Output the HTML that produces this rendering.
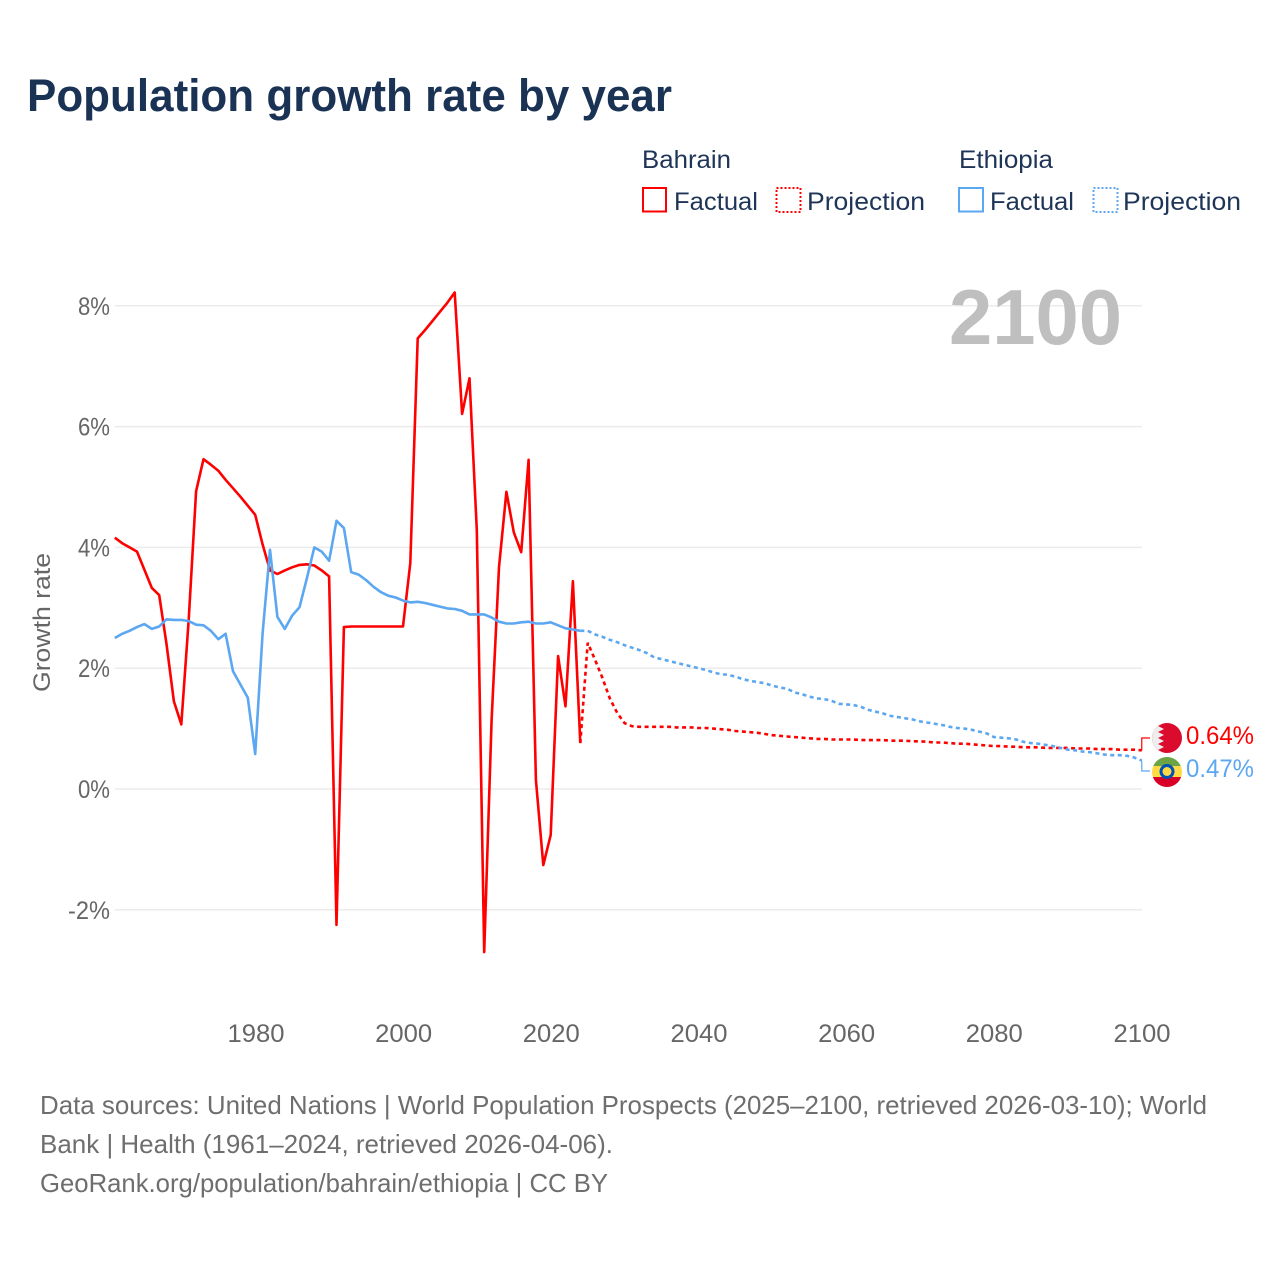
<!DOCTYPE html>
<html lang="en">
<head>
<meta charset="utf-8">
<title>Population growth rate by year</title>
<style>
html,body{margin:0;padding:0;background:#fff}
svg{display:block}
text{font-family:"Liberation Sans",sans-serif}
</style>
</head>
<body>
<svg id="chart" xmlns="http://www.w3.org/2000/svg" width="1280" height="1280" viewBox="0 0 1280 1280">
  <defs>
    <clipPath id="clip-bh"><circle cx="1167" cy="738" r="15"/></clipPath>
    <clipPath id="clip-et"><circle cx="1167" cy="772" r="15"/></clipPath>
  </defs>
  <rect width="1280" height="1280" fill="#ffffff"/>
  <text x="27" y="111" font-size="45" font-weight="700" fill="#1a3355" textLength="645" lengthAdjust="spacingAndGlyphs">Population growth rate by year</text>

  <g font-size="25" fill="#1f3557">
    <text x="642" y="168" textLength="89" lengthAdjust="spacingAndGlyphs">Bahrain</text>
    <text x="959" y="168" textLength="94" lengthAdjust="spacingAndGlyphs">Ethiopia</text>
    <g>
      <rect x="643" y="188" width="23" height="23.5" fill="none" stroke="#ff0000" stroke-width="2"/>
      <text x="674" y="210" textLength="84" lengthAdjust="spacingAndGlyphs">Factual</text>
    </g>
    <g>
      <rect x="776.5" y="188" width="24" height="24" fill="none" stroke="#ff0000" stroke-width="2" stroke-dasharray="2 2"/>
      <text x="807" y="210" textLength="118" lengthAdjust="spacingAndGlyphs">Projection</text>
    </g>
    <g>
      <rect x="959" y="188" width="24" height="23.5" fill="none" stroke="#5ca7f1" stroke-width="2"/>
      <text x="990" y="210" textLength="84" lengthAdjust="spacingAndGlyphs">Factual</text>
    </g>
    <g>
      <rect x="1093.5" y="188" width="24" height="24" fill="none" stroke="#5ca7f1" stroke-width="2" stroke-dasharray="2 2"/>
      <text x="1123" y="210" textLength="118" lengthAdjust="spacingAndGlyphs">Projection</text>
    </g>
  </g>

  <g id="grid"></g>
  <text x="949" y="344" font-size="78" font-weight="700" fill="#bfbfbf" textLength="173" lengthAdjust="spacingAndGlyphs">2100</text>
  <text transform="translate(50,692) rotate(-90)" font-size="24" fill="#666666" textLength="139" lengthAdjust="spacingAndGlyphs">Growth rate</text>
  <g id="yticks" font-size="25" fill="#666666"></g>
  <g id="xticks" font-size="25" fill="#666666"></g>
  <g id="series"></g>

  <g clip-path="url(#clip-bh)">
    <rect x="1152" y="723" width="30" height="30" fill="#da0b2c"/>
    <polygon points="1152,723 1164,723 1158,726 1164,729 1158,732 1164,735 1158,738 1164,741 1158,744 1164,747 1158,750 1164,753 1152,753" fill="#eeeeee"/>
  </g>
  <g clip-path="url(#clip-et)">
    <rect x="1152" y="757" width="30" height="9" fill="#6da544"/>
    <rect x="1152" y="766" width="30" height="11" fill="#ffda44"/>
    <rect x="1152" y="777" width="30" height="10" fill="#d80027"/>
    <circle cx="1167" cy="771.5" r="7.5" fill="#0052b4"/>
    <circle cx="1167" cy="771.5" r="4.5" fill="#ffda44"/>
  </g>
  <text x="1186" y="744" font-size="25" fill="#ff0000" textLength="68" lengthAdjust="spacingAndGlyphs">0.64%</text>
  <text x="1186" y="777" font-size="25" fill="#5ca7f1" textLength="68" lengthAdjust="spacingAndGlyphs">0.47%</text>

  <g font-size="26" fill="#6e6e6e">
    <text x="40" y="1114" textLength="1167" lengthAdjust="spacingAndGlyphs">Data sources: United Nations | World Population Prospects (2025–2100, retrieved 2026-03-10); World</text>
    <text x="40" y="1153" textLength="573" lengthAdjust="spacingAndGlyphs">Bank | Health (1961–2024, retrieved 2026-04-06).</text>
    <text x="40" y="1192" textLength="568" lengthAdjust="spacingAndGlyphs">GeoRank.org/population/bahrain/ethiopia | CC BY</text>
  </g>
</svg>
<script>
const xTickYears = [1980, 2000, 2020, 2040, 2060, 2080, 2100];
const yTickValues = [-2, 0, 2, 4, 6, 8];
const factualStartYear = 1961;
const projectionStartYear = 2025;

const bahrainFactual = [4.16,4.07,4.00,3.93,3.63,3.33,3.21,2.40,1.45,1.07,2.80,4.93,5.46,5.37,5.27,5.12,4.98,4.84,4.69,4.54,
  4.05,3.62,3.56,3.62,3.67,3.71,3.72,3.70,3.62,3.52,-2.25,2.68,2.69,2.69,2.69,2.69,2.69,2.69,2.69,2.69,
  3.74,7.46,7.60,7.75,7.90,8.05,8.22,6.21,6.80,4.29,-2.70,1.14,3.67,4.92,4.25,3.92,5.45,0.15,-1.26,-0.76,2.20,1.37,3.44,0.76];
const bahrainProjection = [2.42,2.14,1.84,1.50,1.26,1.09,1.04,1.03,1.03,1.03,1.03,1.03,1.02,1.02,1.02,1.01,1.01,1.00,0.99,0.98,
  0.96,0.95,0.94,0.93,0.91,0.89,0.88,0.87,0.86,0.85,0.84,0.83,0.83,0.82,0.82,0.82,0.82,0.81,0.81,0.81,
  0.81,0.80,0.80,0.80,0.79,0.79,0.78,0.77,0.77,0.76,0.75,0.75,0.74,0.73,0.72,0.71,0.71,0.70,0.70,0.69,
  0.69,0.69,0.68,0.68,0.68,0.68,0.67,0.67,0.67,0.66,0.66,0.66,0.65,0.65,0.65,0.64];
const ethiopiaFactual = [2.50,2.57,2.62,2.68,2.73,2.65,2.69,2.81,2.80,2.80,2.78,2.72,2.71,2.62,2.48,2.57,1.95,1.73,1.51,0.58,
  2.58,3.96,2.85,2.65,2.87,3.01,3.49,4.00,3.93,3.78,4.44,4.32,3.59,3.55,3.46,3.35,3.26,3.20,3.17,3.12,
  3.09,3.10,3.08,3.05,3.02,2.99,2.98,2.95,2.89,2.89,2.89,2.84,2.77,2.74,2.74,2.76,2.77,2.74,2.74,2.76,2.71,2.66,2.64,2.62];
const ethiopiaProjection = [2.62,2.56,2.52,2.47,2.43,2.38,2.34,2.30,2.25,2.18,2.15,2.12,2.09,2.06,2.03,2.00,1.97,1.93,1.90,1.89,
  1.86,1.82,1.79,1.77,1.75,1.71,1.68,1.66,1.60,1.57,1.53,1.50,1.49,1.46,1.41,1.40,1.39,1.36,1.31,1.28,
  1.25,1.21,1.19,1.17,1.15,1.12,1.10,1.08,1.06,1.03,1.01,1.00,0.98,0.95,0.92,0.86,0.85,0.84,0.82,0.78,
  0.76,0.75,0.73,0.71,0.68,0.65,0.64,0.62,0.61,0.59,0.57,0.56,0.56,0.55,0.52,0.47];

const NS = 'http://www.w3.org/2000/svg';
const RED = '#ff0000';
const BLUE = '#5ca7f1';
function xScale(year) { return 255.2 + (year - 1980) * 7.388; }
function xTickScale(year) { return 256 + (year - 1980) * 7.383; }
function yScale(value) { return 789 - value * 60.4; }
function make(tag, attrs, parent) {
  const el = document.createElementNS(NS, tag);
  for (const k in attrs) el.setAttribute(k, attrs[k]);
  parent.appendChild(el);
  return el;
}
function pointsFor(values, startYear, prefix) {
  const pts = values.map((v, i) => xScale(startYear + i).toFixed(1) + ',' + yScale(v).toFixed(1));
  if (prefix) pts.unshift(prefix);
  return pts.join(' ');
}

const gridGroup = document.getElementById('grid');
const yTickGroup = document.getElementById('yticks');
const xTickGroup = document.getElementById('xticks');
const seriesGroup = document.getElementById('series');

yTickValues.forEach(function (v) {
  const line = make('line', { x1: 115, x2: 1142, y1: yScale(v), y2: yScale(v), stroke: '#ebebeb', 'stroke-width': 1.5 }, gridGroup);
  
  
  const w = v < 0 ? 42 : 32;
  const label = make('text', { x: 110 - w, y: yScale(v) + 9, textLength: w, lengthAdjust: 'spacingAndGlyphs' }, yTickGroup);
  label.textContent = v + '%';
  
  
});

xTickYears.forEach(function (yr) {
  const label = make('text', { x: xTickScale(yr) - 28.5, y: 1042, textLength: 57, lengthAdjust: 'spacingAndGlyphs' }, xTickGroup);
  label.textContent = String(yr);
  
  
});

function lastPoint(values, startYear) {
  const i = values.length - 1;
  return xScale(startYear + i).toFixed(1) + ',' + yScale(values[i]).toFixed(1);
}

const bahrainFactualLine = make('polyline', { points: pointsFor(bahrainFactual, factualStartYear), fill: 'none', stroke: RED, 'stroke-width': 2.6, 'stroke-linejoin': 'round' }, seriesGroup);



const ethiopiaFactualLine = make('polyline', { points: pointsFor(ethiopiaFactual, factualStartYear), fill: 'none', stroke: BLUE, 'stroke-width': 2.6, 'stroke-linejoin': 'round' }, seriesGroup);



const bahrainProjectionLine = make('polyline', { points: pointsFor(bahrainProjection, projectionStartYear, lastPoint(bahrainFactual, factualStartYear)), fill: 'none', stroke: RED, 'stroke-width': 2.6, 'stroke-dasharray': '4 3.5' }, seriesGroup);



const ethiopiaProjectionLine = make('polyline', { points: pointsFor(ethiopiaProjection, projectionStartYear, lastPoint(ethiopiaFactual, factualStartYear)), fill: 'none', stroke: BLUE, 'stroke-width': 2.6, 'stroke-dasharray': '4 3.5' }, seriesGroup);



const xEnd = xScale(2100);
const bahrainConnector = make('polyline', { points: xEnd + ',' + yScale(bahrainProjection[bahrainProjection.length - 1]) + ' ' + xEnd + ',738 1150,738', fill: 'none', stroke: RED, 'stroke-width': 1.2 }, seriesGroup);



const ethiopiaConnector = make('polyline', { points: xEnd + ',' + yScale(ethiopiaProjection[ethiopiaProjection.length - 1]) + ' ' + xEnd + ',771 1150,771', fill: 'none', stroke: BLUE, 'stroke-width': 1.2 }, seriesGroup);


</script>
</body>
</html>
